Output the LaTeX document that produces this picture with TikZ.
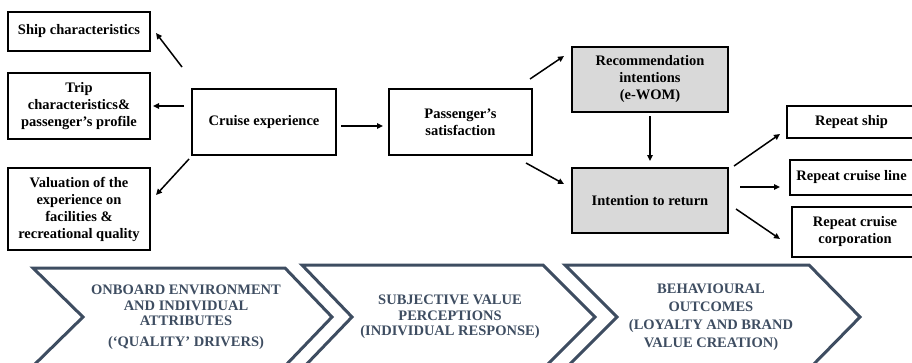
\documentclass[tikz,border=0pt]{standalone}
\usepackage{fontspec}
\setmainfont{Liberation Serif}
\usetikzlibrary{arrows.meta}
\definecolor{slate}{HTML}{3E4D61}
\definecolor{boxgrey}{HTML}{D9D9D9}
\begin{document}
\begin{tikzpicture}[x=1pt,y=-1pt]
\tikzset{box/.style={draw,line width=2pt,align=center,inner sep=0pt,
  font=\fontsize{14.5}{17}\selectfont\bfseries},
  greybox/.style={box,fill=boxgrey},
  arr/.style={line width=1.5pt,-{Triangle[length=6pt,width=5.5pt]}},
  chev/.style={draw=slate,line width=3pt,line join=miter},
  chevtext/.style={text=slate,align=center,font=\fontsize{14.5}{15.5}\selectfont\bfseries}}
\useasboundingbox (0,0) rectangle (912,362);
% left column and centre
\node[box,minimum width=142pt,minimum height=39pt] (ship) at (79,31.5) {Ship characteristics};
\node[box,minimum width=142pt,minimum height=66pt] (trip) at (79,106) {Trip\\characteristics\&\\passenger’s profile};
\node[box,minimum width=142pt,minimum height=82pt] (valuation) at (79,209) {Valuation of the\\experience on\\facilities \&\\recreational quality};
\node[box,minimum width=144pt,minimum height=66pt] (cruise) at (264,122) {Cruise experience};
\node[box,minimum width=143pt,minimum height=66pt] (satisf) at (460.5,122) {Passenger’s\\satisfaction};
% outcomes
\node[greybox,minimum width=156pt,minimum height=65pt] (recom) at (650,79.5) {Recommendation\\intentions\\(e-WOM)};
\node[greybox,minimum width=156pt,minimum height=65pt] (intent) at (650,200.5) {Intention to return};
\node[box,minimum width=129pt,minimum height=32pt] (rship) at (851.5,122) {Repeat ship};
\node[box,minimum width=123pt,minimum height=35pt] (rline) at (851.5,177.5) {Repeat cruise line};
\node[box,minimum width=126pt,minimum height=50pt] (rcorp) at (855,232) {Repeat cruise\\corporation};
% connectors
\draw[arr] ([shift={(-9,-21)}]cruise.north west) -- ([shift={(5,1.5)}]ship.east);
\draw[arr,shorten <=7pt,shorten >=2pt] (cruise.west |- trip.east) -- (trip.east);
\draw[arr] ([shift={(-2,3)}]cruise.south west) -- ([shift={(5,-14)}]valuation.east);
\draw[arr,shorten <=4pt,shorten >=5pt] ([yshift=-4pt]cruise.east) -- ([yshift=-4pt]satisf.west);
\draw[arr] ([shift={(-3,-9)}]satisf.north east) -- ([shift={(-7,10)}]recom.north west);
\draw[arr] ([shift={(-7,7)}]satisf.south east) -- ([shift={(-7,17)}]intent.north west);
\draw[arr,shorten <=3pt,shorten >=6pt] (recom.south) -- (intent.north);
\draw[arr] ([shift={(5,-1)}]intent.north east) -- ([shift={(-6,-5)}]rship.south west);
\draw[arr] ([shift={(11,-13.5)}]intent.east) -- ([shift={(-9,9.5)}]rline.west);
\draw[arr] ([shift={(7,8.5)}]intent.east) -- ([shift={(-11,7)}]rcorp.west);
% chevrons
\draw[chev] (33,268) -- (285,268) -- (332,317) -- (285,366) -- (33,366) -- (83,317) -- cycle;
\draw[chev] (302,265) -- (543,265) -- (595,317) -- (543,369) -- (302,369) -- (352,317) -- cycle;
\draw[chev] (565,265) -- (809,265) -- (860,317) -- (809,369) -- (565,369) -- (617,317) -- cycle;
\node[chevtext] (drivers) at (186,317) {ONBOARD ENVIRONMENT\\AND INDIVIDUAL\\ATTRIBUTES\\[5pt](‘QUALITY’ DRIVERS)};
\node[chevtext] (perceptions) at (450,317) {SUBJECTIVE VALUE\\PERCEPTIONS\\(INDIVIDUAL RESPONSE)};
\node[chevtext,font=\fontsize{14.5}{18}\selectfont\bfseries] (outcomes) at (711,317.5) {BEHAVIOURAL\\OUTCOMES\\(LOYALTY AND BRAND\\VALUE CREATION)};
\end{tikzpicture}
\end{document}
